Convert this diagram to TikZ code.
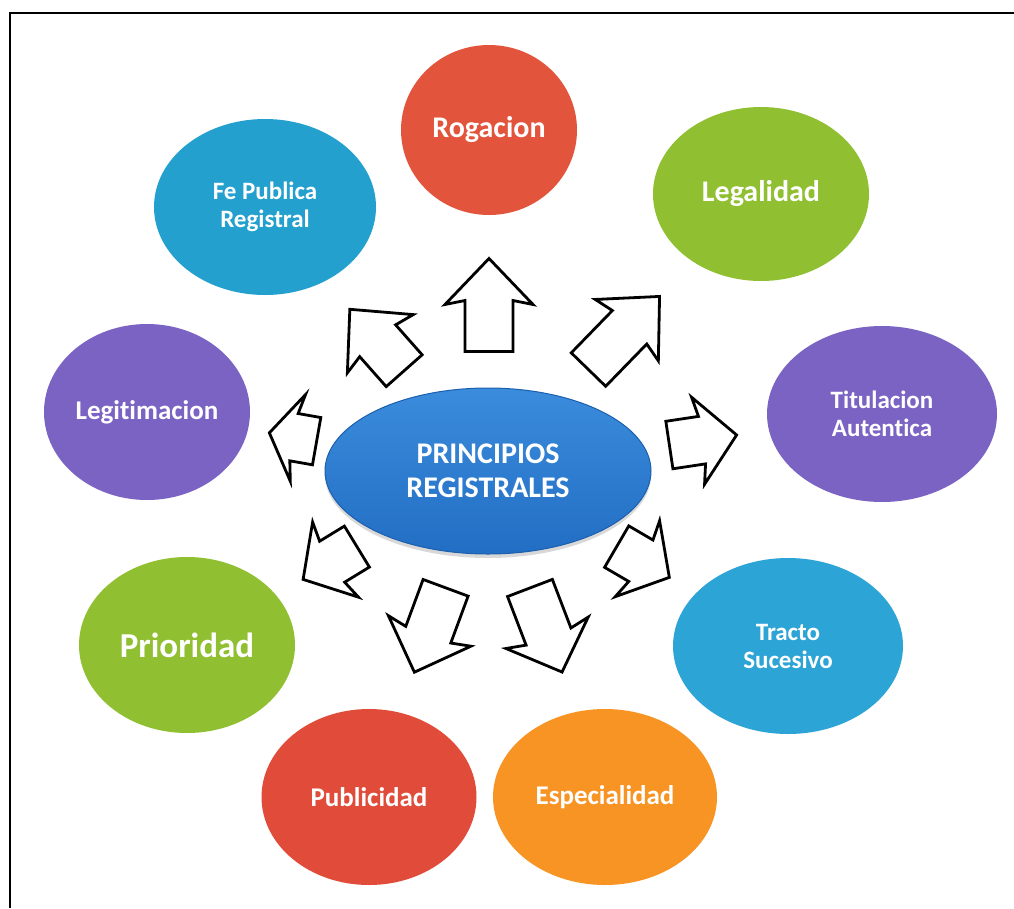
\documentclass[tikz,border=0pt]{standalone}
\usepackage{fontspec}
\setmainfont{Carlito}[Ligatures=NoCommon]
\usetikzlibrary{shapes.geometric,shadows}

\definecolor{rojoRog}{HTML}{E2553C}
\definecolor{rojoPub}{HTML}{E14C3A}
\definecolor{verde}{HTML}{90BF31}
\definecolor{celeste}{HTML}{23A0CD}
\definecolor{celesteTr}{HTML}{2DA4D6}
\definecolor{morado}{HTML}{7B63C4}
\definecolor{naranja}{HTML}{F79424}
\definecolor{azulTop}{HTML}{3B8CDC}
\definecolor{azulBot}{HTML}{226EC4}
\definecolor{azulBorde}{HTML}{1C5FAE}

\begin{document}
\begin{tikzpicture}[x=1pt,y=-1pt,
  principio/.style={ellipse,inner sep=0pt,text=white,align=center,
    font=\bfseries\fontsize{25}{28}\selectfont},
  flecha/.style={draw=black,line width=2.8pt,fill=white,line join=miter}]
  \useasboundingbox (0,0) rectangle (1014,908);
  \fill[white] (0,0) rectangle (1014,908);
  \draw[line width=2pt] (10,908) -- (10,13) -- (1014,13);
  \node[principio,fill=rojoRog,minimum width=176,minimum height=170,
    font=\bfseries\fontsize{30}{34}\selectfont] (rogacion) at (489,130) {Rogacion};
  \node[principio,fill=verde,minimum width=216,minimum height=174,
    font=\bfseries\fontsize{30}{34}\selectfont] (legalidad) at (761,194) {Legalidad};
  \node[principio,fill=celeste,minimum width=222,minimum height=176] (fepublica)
    at (265,207) {Fe Publica\\Registral};
  \node[principio,fill=morado,minimum width=206,minimum height=176,
    font=\bfseries\fontsize{27}{30}\selectfont] (legitimacion) at (147,412) {Legitimacion};
  \node[principio,fill=morado,minimum width=230,minimum height=176] (titulacion)
    at (882,414) {Titulacion\\Autentica};
  \node[principio,fill=verde,minimum width=216,minimum height=176,
    font=\bfseries\fontsize{35}{38}\selectfont] (prioridad) at (187,645) {Prioridad};
  \node[principio,fill=celesteTr,minimum width=230,minimum height=176,
    font=\bfseries\fontsize{25}{28}\selectfont] (tracto) at (788,646) {Tracto\\Sucesivo};
  \node[principio,fill=rojoPub,minimum width=215,minimum height=176,
    font=\bfseries\fontsize{27}{30}\selectfont] (publicidad) at (369,797) {Publicidad};
  \node[principio,fill=naranja,minimum width=224,minimum height=176,
    font=\bfseries\fontsize{27}{30}\selectfont] (especialidad) at (605,797) {Especialidad};
  \node[principio,minimum width=326,minimum height=166,
    top color=azulTop,bottom color=azulBot,draw=azulBorde,line width=1pt,
    drop shadow={shadow xshift=0pt,shadow yshift=-4pt,opacity=0.3,fill=gray},
    font=\bfseries\fontsize{30}{34}\selectfont] (centro) at (488,471)
    {PRINCIPIOS\\REGISTRALES};
  \foreach \cx/\cy/\ang/\len/\head in {489/305/90/93/42, 377/340/131.5/82/42,
      624/333/45.8/102/43, 293/437/170/48/25, 703/440/8.5/68/35,
      330/563/211.4/63/34, 643/562/-30.3/61/33, 430/630/-110.3/90/40,
      546/630/-69.1/90/38}{
    \pgfmathsetmacro\half{\len/2}
    \pgfmathsetmacro\neck{\len/2-\head}
    \draw[flecha,shift={(\cx,\cy)},rotate=\ang]
      (-\half,-24) -- (\neck,-24) -- (\neck-4,-44) -- (\half,0)
      -- (\neck-4,44) -- (\neck,24) -- (-\half,24) -- cycle;
  }
\end{tikzpicture}
\end{document}
